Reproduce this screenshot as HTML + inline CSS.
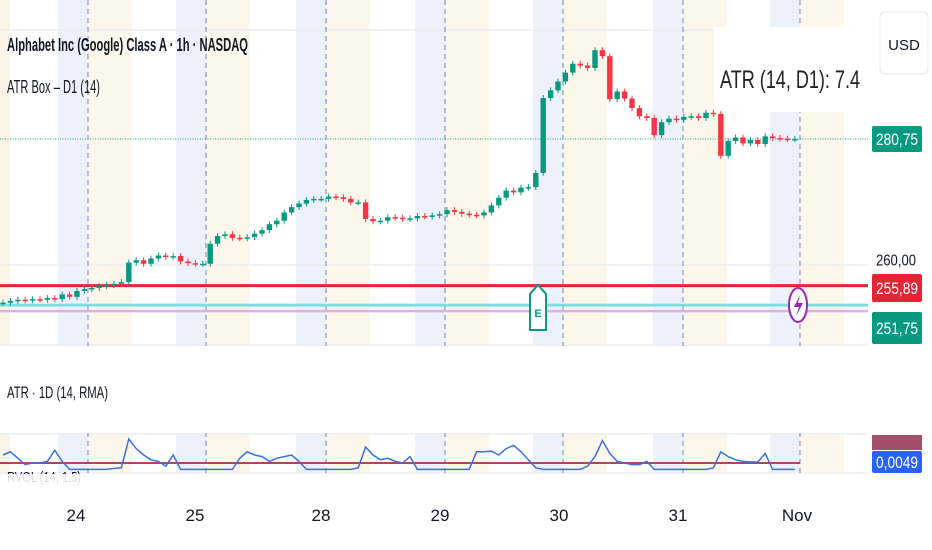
<!DOCTYPE html>
<html><head><meta charset="utf-8"><style>
body{margin:0;width:932px;height:550px;overflow:hidden;background:#fff;font-family:"Liberation Sans",sans-serif}
svg{position:absolute;left:0;top:0}
</style></head><body>
<svg id="c" width="932" height="550"></svg>
<script>
const closes=[253.0,253.3,253.5,253.4,253.6,253.5,253.8,253.6,254.4,254.0,255.0,255.3,
255.5,255.8,256.0,256.2,256.5,259.8,260.2,259.6,260.5,261.0,260.8,260.9,260.0,259.7,259.6,259.6,
263.0,264.3,264.6,264.0,263.9,264.1,264.7,265.3,266.3,266.9,268.3,269.2,269.8,
270.4,270.6,270.6,271.0,270.9,270.6,270.0,270.0,267.2,
266.8,266.9,267.5,267.4,267.2,267.3,267.7,267.6,267.8,268.0,268.7,268.4,268.1,267.9,267.8,268.3,
269.5,270.8,272.0,271.7,272.5,272.6,275.0,287.7,289.0,290.5,292.0,293.5,293.2,292.8,295.8,294.8,287.5,
288.8,287.6,286.0,284.6,284.3,281.4,283.6,284.2,284.0,284.5,284.6,284.3,285.2,285.0,277.9,
280.4,281.0,280.0,280.6,279.9,281.2,280.9,280.8,280.7,280.75];
const rvol=[0.5,0.6,0.4,0.2,0.25,0.25,0.3,0.65,0.3,0.05,0.05,0.05,0.05,0.05,0.05,0.08,0.1,
1.0,0.7,0.5,0.35,0.3,0.15,0.5,0.05,0.05,0.05,0.05,0.05,0.05,0.05,0.05,0.4,
0.6,0.5,0.45,0.3,0.4,0.45,0.5,0.3,0.05,0.05,0.05,0.05,0.05,0.05,0.05,0.1,
0.75,0.5,0.35,0.4,0.3,0.25,0.45,0.05,0.05,0.05,0.05,0.05,0.05,0.05,0.05,
0.6,0.6,0.62,0.5,0.7,0.8,0.6,0.35,0.1,0.05,0.05,0.05,0.05,0.05,0.05,0.15,0.45,0.95,0.55,0.3,0.25,0.2,0.2,0.3,
0.05,0.05,0.05,0.05,0.05,0.05,0.05,0.05,0.1,0.6,0.45,0.35,0.3,0.28,0.28,0.55,0.05,0.05,0.05,0.05];
const dayLabels=["24","25","28","29","30","31","Nov"];
const dayLabelX=[76,195,321,440,559,678,797];
const separators=[88,206,326,445,563,683,800];
const lastPrice=280.75, resLevel=255.89, supLevel=251.75, axisTick=260.00;
const atrValue=7.4, rvolRef=0.25;

const S=document.getElementById('c');const NS='http://www.w3.org/2000/svg';
function mk(t,a,p){const e=document.createElementNS(NS,t);for(const k in a)e.setAttribute(k,a[k]);(p||S).appendChild(e);return e;}
const y=p=>139+(lastPrice-p)*5.9;
const x=i=>3+i*7.4;
const ry=v=>471-v*32;
separators.forEach((s,k)=>{
 const b=mk('rect',{x:s-30,y:0,width:30,height:473,fill:'#e8eefb',opacity:0.8});
 
 const o=mk('rect',{x:s,y:0,width:44,height:473,fill:'#fdf4e6',opacity:0.8});
 
});
mk('rect',{x:0,y:0,width:10,height:473,fill:'#fdf4e6'});
[30,265,345,434,473].forEach(g=>mk('line',{x1:0,x2:868,y1:g,y2:g,stroke:'#eceef2','stroke-width':1.5}));
separators.forEach(s=>{
 const l=mk('line',{x1:s,x2:s,y1:0,y2:473,stroke:'#6f86b8','stroke-width':1,'stroke-dasharray':'5,4'});
 
});
mk('rect',{x:0,y:346,width:868,height:87,fill:'#fff'});
mk('line',{x1:0,x2:868,y1:y(lastPrice),y2:y(lastPrice),stroke:'#22a37a','stroke-width':1,'stroke-dasharray':'1,1.5'});
const rl=mk('line',{x1:0,x2:868,y1:y(resLevel),y2:y(resLevel),stroke:'#e32636','stroke-width':3});

const tl=mk('line',{x1:0,x2:868,y1:y(supLevel)-5,y2:y(supLevel)-5,stroke:'#7fdde0','stroke-width':3});

mk('line',{x1:0,x2:868,y1:y(supLevel)+1,y2:y(supLevel)+1,stroke:'#d9b3e3','stroke-width':2.5});
const ab=mk('g',{});
mk('rect',{x:714,y:27,width:154,height:85,fill:'#fff'},ab);
mk('text',{x:720,y:88,'font-size':25,fill:'#222',textLength:140,lengthAdjust:'spacingAndGlyphs'},ab).textContent='ATR (14, D1): '+atrValue;
closes.forEach((c,i)=>{
 const o=i?closes[i-1]:c;const up=c>=o;const col=up?'#089981':'#f23645';
 const hi=Math.max(o,c)+0.5, lo=Math.min(o,c)-0.5;
 const g=mk('g',{});
 
 mk('line',{x1:x(i),x2:x(i),y1:y(hi),y2:y(lo),stroke:col,'stroke-width':1},g);
 const t=Math.min(y(o),y(c));mk('rect',{x:x(i)-2.7,y:t,width:5.4,height:Math.max(1.5,Math.abs(y(o)-y(c))),fill:col},g);
});
const em=mk('g',{});
mk('path',{d:'M538 285 L546 294 L546 330 L530 330 L530 294 Z',fill:'#fff',stroke:'#089981','stroke-width':2},em);
mk('text',{x:538,y:317,'text-anchor':'middle','font-size':11,'font-weight':'bold',fill:'#089981'},em).textContent='E';
const lm=mk('g',{});
mk('ellipse',{cx:798,cy:305,rx:9,ry:17,fill:'#fff',stroke:'#9c27b0','stroke-width':2},lm);
mk('path',{d:'M800 295 L794 307 L799 307 L796 316 L803 303 L798 303 Z',fill:'#9c27b0'},lm);
const pts=rvol.map((v,i)=>x(i)+','+ry(v)).join(' ');
mk('line',{x1:0,x2:800,y1:ry(rvolRef),y2:ry(rvolRef),stroke:'#b2455a','stroke-width':2});
const pl=mk('polyline',{points:pts,fill:'none',stroke:'#3d6ee0','stroke-width':1.5});

mk('rect',{x:868,y:0,width:64,height:550,fill:'#fff'});
mk('rect',{x:0,y:474,width:868,height:76,fill:'#fff'});
function box(yc,h,col,txt,name){const g=mk('g',{});
 mk('rect',{x:872,y:yc-h/2,width:50,height:h,fill:col,rx:2},g);
 mk('text',{x:897,y:yc+6,'text-anchor':'middle','font-size':17,fill:'#fff',textLength:42,lengthAdjust:'spacingAndGlyphs'},g).textContent=txt;}
box(y(lastPrice),26,'#089981','280,75','last-price-label');
box(288,28,'#e32636','255,89','atr-high-label');
box(328,32,'#089981','251,75','atr-low-label');
const t260=mk('text',{x:896,y:y(axisTick)+4,'text-anchor':'middle','font-size':16,fill:'#131722',textLength:40,lengthAdjust:'spacingAndGlyphs'});t260.textContent='260,00';

mk('rect',{x:872,y:435,width:50,height:15,fill:'#a24d6a'});
box(462,22,'#2962ff','0,0049','rvol-value-label');
dayLabels.forEach((d,k)=>{const t=mk('text',{x:dayLabelX[k],y:521,'text-anchor':'middle','font-size':17,fill:'#131722',transform:'',style:''});t.textContent=d;
 });
const ub=mk('g',{});
mk('rect',{x:880,y:12,width:48,height:62,rx:5,fill:'#fff',stroke:'#e6e8ee'},ub);
mk('text',{x:904,y:50,'text-anchor':'middle','font-size':15,fill:'#131722'},ub).textContent='USD';
const t1=mk('text',{x:7,y:51,'font-size':18,'font-weight':'bold',fill:'#131722',textLength:241,lengthAdjust:'spacingAndGlyphs'});t1.textContent='Alphabet Inc (Google) Class A · 1h · NASDAQ';

const t2=mk('text',{x:7,y:93,'font-size':18,fill:'#131722',textLength:93,lengthAdjust:'spacingAndGlyphs'});t2.textContent='ATR Box – D1 (14)';

const t3=mk('text',{x:7,y:398,'font-size':17,fill:'#131722',textLength:101,lengthAdjust:'spacingAndGlyphs'});t3.textContent='ATR · 1D (14, RMA)';

const t4=mk('text',{x:7,y:482,'font-size':15,fill:'#131722',textLength:74,lengthAdjust:'spacingAndGlyphs'});t4.textContent='RVOL (14, 1.5)';

mk('rect',{x:0,y:474,width:868,height:20,fill:'#fff'}).setAttribute('opacity','0.85');
</script>
</body></html>
